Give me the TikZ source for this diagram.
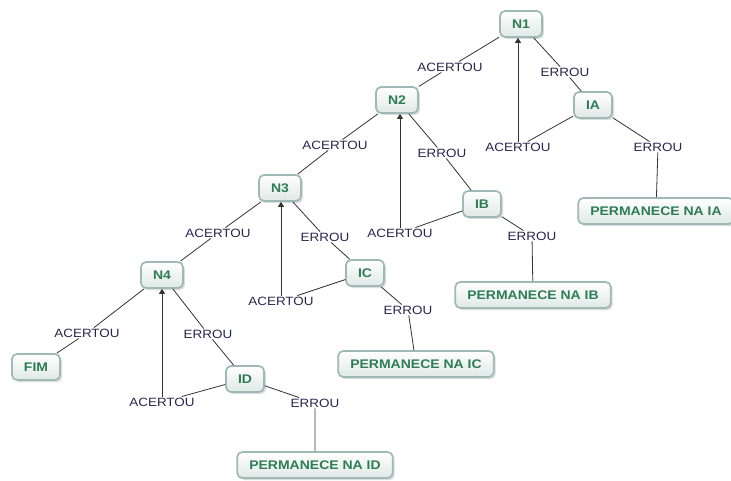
\documentclass[tikz,border=0pt]{standalone}
\usepackage{fontspec}
\setmainfont{Liberation Sans}
\newfontfamily\cfont[FakeStretch=1.12]{Liberation Sans}
\usetikzlibrary{arrows.meta,shadows}
\definecolor{nodetext}{HTML}{2E7D55}
\definecolor{labtext}{HTML}{262650}
\definecolor{nodeborder}{HTML}{9FB8B8}
\definecolor{nodefill}{HTML}{DFE9E6}
\definecolor{linecol}{HTML}{333333}
\tikzset{
  concept/.style={draw=nodeborder, line width=1.7pt, rounded corners=5pt,
    top color=white, bottom color=nodefill,
    font=\cfont\bfseries\fontsize{12.5}{14}\selectfont, text=nodetext,
    inner xsep=12pt, inner ysep=0pt, minimum height=26pt,
    drop shadow={shadow xshift=2pt, shadow yshift=-2pt, fill=black!28}},
  link/.style={font=\cfont\fontsize{12}{14}\selectfont, text=labtext, inner sep=1pt},
  conn/.style={draw=linecol, line width=0.8pt},
  arr/.style={conn, -{Triangle[width=6pt,length=5pt]}}
}
\begin{document}
\begin{tikzpicture}[x=1pt,y=-1pt]
\fill[white] (0,0) rectangle (731,481);
\useasboundingbox (0,0) rectangle (731,481);
% concepts
\node[concept] (N1)  at (521,24)  {N1};
\node[concept] (IA)  at (593,105) {IA};
\node[concept] (PIA) at (656,211) {PERMANECE NA IA};
\node[concept] (N2)  at (397,100) {N2};
\node[concept] (IB)  at (482,204) {IB};
\node[concept] (PIB) at (533,295) {PERMANECE NA IB};
\node[concept] (N3)  at (280,188) {N3};
\node[concept] (IC)  at (365,273) {IC};
\node[concept] (PIC) at (416,364) {PERMANECE NA IC};
\node[concept] (N4)  at (162,275) {N4};
\node[concept] (FIM) at (36,367)  {FIM};
\node[concept] (ID)  at (245,379) {ID};
\node[concept] (PID) at (315,465) {PERMANECE NA ID};
% linking phrases
\node[link] (a1)  at (450,67)  {ACERTOU};
\node[link] (e1)  at (565,72)  {ERROU};
\node[link] (a1b) at (518,147) {ACERTOU};
\node[link] (e1b) at (658,147) {ERROU};
\node[link] (a2)  at (335,145) {ACERTOU};
\node[link] (e2)  at (442,153) {ERROU};
\node[link] (a2b) at (400,233) {ACERTOU};
\node[link] (e2b) at (532,236) {ERROU};
\node[link] (a3)  at (218,233) {ACERTOU};
\node[link] (e3)  at (325,237) {ERROU};
\node[link] (a3b) at (281,301) {ACERTOU};
\node[link] (e3b) at (408,310) {ERROU};
\node[link] (a4)  at (87,333)  {ACERTOU};
\node[link] (e4)  at (208,334) {ERROU};
\node[link] (a4b) at (162,402) {ACERTOU};
\node[link] (e4b) at (315,403) {ERROU};
% connectors
\draw[conn] (N1) -- (a1) -- (N2);
\draw[conn] (N1) -- (e1) -- (IA);
\draw[conn] (IA) -- (a1b);
\draw[arr]  (a1b.north) -- (a1b.north |- N1.south);
\draw[conn] (IA) -- (e1b) -- (PIA);
\draw[conn] (N2) -- (a2) -- (N3);
\draw[conn] (N2) -- (e2) -- (IB);
\draw[conn] (IB) -- (a2b);
\draw[arr]  (a2b.north) -- (a2b.north |- N2.south);
\draw[conn] (IB) -- (e2b) -- (PIB);
\draw[conn] (N3) -- (a3) -- (N4);
\draw[conn] (N3) -- (e3) -- (IC);
\draw[conn] (IC) -- (a3b);
\draw[arr]  (a3b.north) -- (a3b.north |- N3.south);
\draw[conn] (IC) -- (e3b) -- (PIC);
\draw[conn] (N4) -- (a4) -- (FIM);
\draw[conn] (N4) -- (e4) -- (ID);
\draw[conn] (ID) -- (a4b);
\draw[arr]  (a4b.north) -- (a4b.north |- N4.south);
\draw[conn] (ID) -- (e4b) -- (PID);
\end{tikzpicture}
\end{document}
